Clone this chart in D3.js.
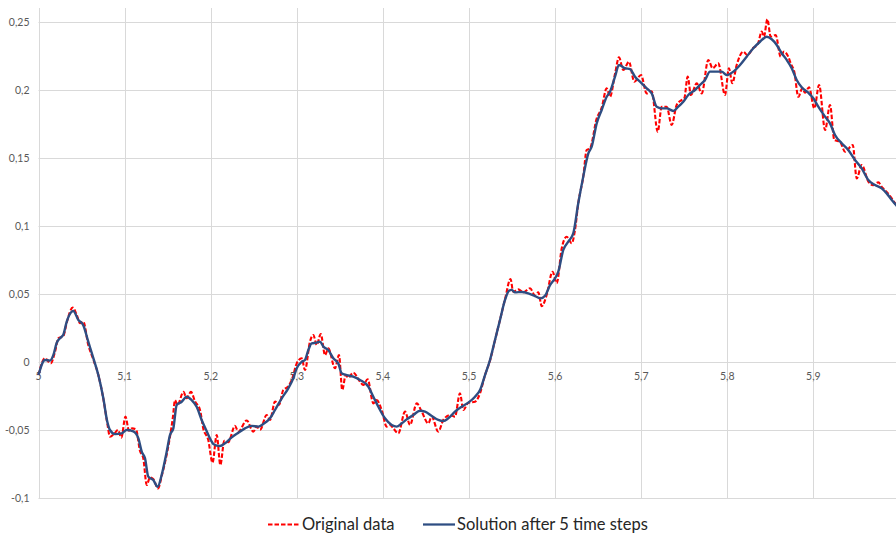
<!DOCTYPE html>
<html>
<head>
<meta charset="utf-8">
<script src="https://cdn.jsdelivr.net/npm/d3@7"></script>
<style>
  body { margin: 0; background: #fff; }
  svg { display: block; }
</style>
</head>
<body>
<svg id="chart" width="896" height="535"></svg>
<script>
// Axis ticks and labels (decimal comma)
const xTicks = [5.0, 5.1, 5.2, 5.3, 5.4, 5.5, 5.6, 5.7, 5.8, 5.9];
const xTickLabels = ["5", "5,1", "5,2", "5,3", "5,4", "5,5", "5,6", "5,7", "5,8", "5,9"];
const yTicks = [-0.1, -0.05, 0, 0.05, 0.1, 0.15, 0.2, 0.25];
const yTickLabels = ["-0,1", "-0,05", "0", "0,05", "0,1", "0,15", "0,2", "0,25"];
const seriesNames = ["Original data", "Solution after 5 time steps"];

// Original (noisy) signal
const originalX = [
  5.000, 5.0075, 5.0142, 5.0192, 5.023, 5.0288, 5.0328, 5.0397, 5.0444, 5.0482,
  5.052, 5.0578, 5.0636, 5.0695, 5.0753, 5.0799, 5.083, 5.0877, 5.0923, 5.0962,
  5.101, 5.1051, 5.1086, 5.1132, 5.1179, 5.1217, 5.1257, 5.1295, 5.1333, 5.1388,
  5.1434, 5.1489, 5.1527, 5.1562, 5.1585, 5.1614, 5.1684, 5.1719, 5.1771, 5.1818,
  5.1876, 5.1914, 5.1972, 5.2021, 5.207, 5.2112, 5.2158, 5.2204, 5.2282, 5.2321,
  5.2418, 5.2495, 5.2534, 5.2573, 5.265, 5.2689, 5.2747, 5.2793, 5.2843, 5.2901,
  5.2948, 5.2999, 5.3057, 5.3095, 5.3153, 5.3192, 5.3231, 5.3278, 5.3328, 5.3366,
  5.3444, 5.349, 5.3528, 5.3568, 5.3598, 5.3656, 5.3734, 5.3772, 5.3823, 5.3889,
  5.3928, 5.3986, 5.4044, 5.4083, 5.4121, 5.4179, 5.4257, 5.4315, 5.4393, 5.4451,
  5.4527, 5.4567, 5.4643, 5.4702, 5.478, 5.4837, 5.4895, 5.4934, 5.4992, 5.507,
  5.5128, 5.5186, 5.5244, 5.5302, 5.536, 5.5418, 5.5482, 5.5514, 5.5573, 5.5631,
  5.5709, 5.5767, 5.5805, 5.5845, 5.5902, 5.597, 5.6019, 5.6077, 5.6135, 5.6193,
  5.6231, 5.6269, 5.6327, 5.6367, 5.6405, 5.6483, 5.6541, 5.6599, 5.6638, 5.6696,
  5.6742, 5.6792, 5.6858, 5.692, 5.6998, 5.7064, 5.7122, 5.7192, 5.7238, 5.7296,
  5.7354, 5.7412, 5.747, 5.7501, 5.754, 5.7578, 5.7645, 5.7703, 5.7779, 5.783,
  5.7895, 5.7973, 5.8019, 5.8058, 5.8109, 5.8186, 5.8232, 5.8302, 5.8353, 5.84,
  5.8426, 5.8465, 5.8504, 5.8562, 5.862, 5.8658, 5.8708, 5.874, 5.8778, 5.8825,
  5.8871, 5.8903, 5.8949, 5.9011, 5.9066, 5.9136, 5.9193, 5.9243, 5.9309, 5.9367,
  5.9457, 5.9503, 5.9561, 5.9638, 5.9693, 5.9754, 5.9793, 5.9851, 5.991, 5.996,
  6.000
];
const originalY = [
  -0.0096, 0.0027, -0.001, 0.0076, 0.0174, 0.019, 0.029, 0.040, 0.0346, 0.0285,
  0.0297, 0.0125, 0.002, -0.0096, -0.027, -0.045, -0.055, -0.053, -0.050, -0.0556,
  -0.0402, -0.0505, -0.0488, -0.0495, -0.0655, -0.0708, -0.0904, -0.0848, -0.086, -0.0929,
  -0.083, -0.068, -0.055, -0.040, -0.028, -0.0316, -0.022, -0.0267, -0.022, -0.029,
  -0.0353, -0.049, -0.0574, -0.074, -0.0537, -0.0757, -0.058, -0.059, -0.047, -0.0512,
  -0.043, -0.0512, -0.0475, -0.0498, -0.039, -0.0426, -0.029, -0.0316, -0.0206, -0.018,
  -0.012, -0.001, 0.0027, -0.0059, 0.015, 0.0199, 0.0125, 0.0206, 0.0051, 0.010,
  -0.0046, 0.0051, -0.0206, -0.0096, -0.0115, -0.0078, -0.0145, -0.0169, -0.0127, -0.0304,
  -0.028, -0.0353, -0.0475, -0.0463, -0.0488, -0.0525, -0.0365, -0.0463, -0.0304, -0.0365,
  -0.0451, -0.0402, -0.0512, -0.0426, -0.039, -0.0402, -0.023, -0.0353, -0.030, -0.0292,
  -0.023, -0.0096, 0.001, 0.016, 0.031, 0.046, 0.061, 0.0517, 0.0534, 0.0512,
  0.0542, 0.049, 0.0512, 0.041, 0.0493, 0.0664, 0.058, 0.0836, 0.0921, 0.0873,
  0.097, 0.1167, 0.1363, 0.1559, 0.157, 0.179, 0.187, 0.2012, 0.195, 0.212,
  0.224, 0.2147, 0.2208, 0.2061, 0.211, 0.1975, 0.199, 0.1693, 0.1877, 0.1877,
  0.1743, 0.189, 0.1926, 0.194, 0.2098, 0.1963, 0.2049, 0.1975, 0.2221, 0.216,
  0.2196, 0.1963, 0.216, 0.205, 0.2184, 0.2282, 0.2257, 0.231, 0.2335, 0.243,
  0.2392, 0.252, 0.2392, 0.2404, 0.2245, 0.2282, 0.2245, 0.219, 0.2135, 0.195,
  0.2012, 0.198, 0.202, 0.1865, 0.2037, 0.1706, 0.189, 0.1632, 0.162, 0.1546,
  0.1596, 0.135, 0.1449, 0.1326, 0.130, 0.1321, 0.1288, 0.1251, 0.1203, 0.1157,
  0.113
];

// Smoothed solution after 5 time steps
const solutionX = [
  5.000, 5.0075, 5.0134, 5.0172, 5.0211, 5.0269, 5.0288, 5.0328, 5.0386, 5.0404,
  5.0462, 5.052, 5.0578, 5.0636, 5.0695, 5.0753, 5.0799, 5.083, 5.0889, 5.0966,
  5.1024, 5.1101, 5.1159, 5.1199, 5.1237, 5.1275, 5.1333, 5.1384, 5.1431, 5.1489,
  5.1527, 5.1566, 5.1605, 5.1663, 5.1721, 5.1779, 5.1837, 5.1895, 5.1947, 5.2012,
  5.203, 5.2108, 5.2166, 5.2244, 5.2321, 5.2398, 5.2476, 5.2553, 5.2611, 5.2689,
  5.2747, 5.2825, 5.2901, 5.2959, 5.2999, 5.3057, 5.3095, 5.3134, 5.3173, 5.3231,
  5.3269, 5.3308, 5.3366, 5.3424, 5.3482, 5.3521, 5.358, 5.3656, 5.3734, 5.383,
  5.3889, 5.3947, 5.4024, 5.4102, 5.416, 5.4218, 5.4276, 5.4353, 5.4431, 5.4489,
  5.4567, 5.4643, 5.4702, 5.4759, 5.4837, 5.4915, 5.4992, 5.507, 5.5128, 5.5186,
  5.5244, 5.5302, 5.536, 5.5418, 5.5465, 5.5496, 5.5534, 5.5612, 5.5689, 5.5767,
  5.5833, 5.5883, 5.5941, 5.5999, 5.6037, 5.6095, 5.6153, 5.6211, 5.6269, 5.6327,
  5.6386, 5.6425, 5.6483, 5.6541, 5.6599, 5.6638, 5.6696, 5.6742, 5.6812, 5.687,
  5.6928, 5.7006, 5.7064, 5.7122, 5.718, 5.7238, 5.7296, 5.7373, 5.7431, 5.7489,
  5.7547, 5.7625, 5.7683, 5.7741, 5.7799, 5.7857, 5.7935, 5.7993, 5.807, 5.8148,
  5.8225, 5.8302, 5.838, 5.8458, 5.8516, 5.8574, 5.8632, 5.869, 5.8748, 5.8806,
  5.8864, 5.8941, 5.8999, 5.9057, 5.9135, 5.9193, 5.9251, 5.9329, 5.9405, 5.9483,
  5.9561, 5.9638, 5.9716, 5.9793, 5.9851, 5.991, 5.996, 6.000
];
const solutionY = [
  -0.0096, 0.0015, 0.001, 0.005, 0.014, 0.0186, 0.020, 0.0297, 0.037, 0.0375,
  0.031, 0.027, 0.015, 0.003, -0.0096, -0.0267, -0.044, -0.050, -0.053, -0.0525,
  -0.050, -0.051, -0.056, -0.066, -0.0708, -0.0843, -0.0868, -0.0917, -0.083, -0.066,
  -0.0537, -0.0488, -0.0316, -0.0292, -0.0255, -0.028, -0.0329, -0.0426, -0.050, -0.0586,
  -0.0603, -0.0618, -0.0598, -0.0554, -0.052, -0.0488, -0.047, -0.0475, -0.0456, -0.0414,
  -0.0353, -0.0267, -0.0194, -0.012, -0.0046, 0.0002, 0.0015, 0.0088, 0.0137, 0.0142,
  0.015, 0.0113, 0.0088, 0.0027, -0.001, -0.0083, -0.0096, -0.0108, -0.0132, -0.018,
  -0.0255, -0.0329, -0.0414, -0.0463, -0.0475, -0.0451, -0.0422, -0.039, -0.0358, -0.0365,
  -0.0397, -0.0426, -0.0434, -0.0414, -0.0365, -0.0329, -0.0299, -0.0255, -0.0206, -0.0096,
  0.0015, 0.0162, 0.0309, 0.0456, 0.0524, 0.053, 0.0512, 0.0515, 0.0505, 0.0485,
  0.0468, 0.0487, 0.0565, 0.0615, 0.0664, 0.0824, 0.0885, 0.0946, 0.1167, 0.1363,
  0.1534, 0.1583, 0.1755, 0.1853, 0.195, 0.1988, 0.2098, 0.2184, 0.216, 0.2154,
  0.2098, 0.2049, 0.2012, 0.1975, 0.1877, 0.1865, 0.1865, 0.1846, 0.1877, 0.1914,
  0.1963, 0.200, 0.2037, 0.2074, 0.2135, 0.2135, 0.2135, 0.211, 0.2135, 0.2184,
  0.2245, 0.2307, 0.2355, 0.2392, 0.2373, 0.2331, 0.227, 0.2221, 0.216, 0.2074,
  0.202, 0.198, 0.1939, 0.1877, 0.1804, 0.1755, 0.1669, 0.1608, 0.1559, 0.1485,
  0.1424, 0.1338, 0.1301, 0.1277, 0.124, 0.1191, 0.1154, 0.112
];

const svg = d3.select("#chart");
const W = 896;
const plotTop = 8;

const x = d3.scaleLinear().domain([5, 6]).range([38.5, 899.5]);
const y = d3.scaleLinear().domain([-0.1, 0.25]).range([498, 22]);

const gridColor = "#d9d9d9";
const labelColor = "#595959";
const font = "Lato, 'Liberation Sans', Arial, sans-serif";

// Horizontal gridlines
svg.append("g")
  .selectAll("line")
  .data(yTicks)
  .join("line")
  .attr("x1", x(5)).attr("x2", W)
  .attr("y1", d => Math.round(y(d)) + 0.5)
  .attr("y2", d => Math.round(y(d)) + 0.5)
  .attr("stroke", gridColor).attr("stroke-width", 1);

// Vertical gridlines (first one doubles as the value axis)
svg.append("g")
  .selectAll("line")
  .data(xTicks)
  .join("line")
  .attr("x1", d => Math.round(x(d)) + 0.5)
  .attr("x2", d => Math.round(x(d)) + 0.5)
  .attr("y1", plotTop).attr("y2", Math.round(y(-0.1)) + 0.5)
  .attr("stroke", gridColor).attr("stroke-width", 1);

// Y tick labels
svg.append("g")
  .selectAll("text")
  .data(yTicks)
  .join("text")
  .attr("x", x(5) - 9)
  .attr("y", d => y(d))
  .attr("dy", "0.35em")
  .attr("text-anchor", "end")
  .attr("font-family", font).attr("font-size", 10.5)
  .attr("fill", labelColor)
  .text((d, i) => yTickLabels[i]);

// X tick labels, placed under the zero line
svg.append("g")
  .selectAll("text")
  .data(xTicks)
  .join("text")
  .attr("x", d => x(d))
  .attr("y", y(0) + 14)
  .attr("dy", "0.35em")
  .attr("text-anchor", "middle")
  .attr("font-family", font).attr("font-size", 10.5)
  .attr("fill", labelColor)
  .text((d, i) => xTickLabels[i]);

svg.append("clipPath").attr("id", "plot-clip")
  .append("rect").attr("x", 0).attr("y", 0).attr("width", W).attr("height", 505);

const line = d3.line()
  .x(d => x(d[0]))
  .y(d => y(d[1]))
  .curve(d3.curveMonotoneX);

const originalData = originalX.map((v, i) => [v, originalY[i]]);
const solutionData = solutionX.map((v, i) => [v, solutionY[i]]);

const redColor = "#ff0000";
const blueColor = "#2e4d82";

svg.append("path")
  .datum(originalData)
  .attr("clip-path", "url(#plot-clip)")
  .attr("d", line)
  .attr("fill", "none")
  .attr("stroke", redColor)
  .attr("stroke-width", 2.1)
  .attr("stroke-dasharray", "4.5,2");

svg.append("path")
  .datum(solutionData)
  .attr("clip-path", "url(#plot-clip)")
  .attr("d", line)
  .attr("fill", "none")
  .attr("stroke", blueColor)
  .attr("stroke-width", 2.4)
  .attr("stroke-linejoin", "round");

// Legend
const legendItems = [
  { name: seriesNames[0], color: redColor, dash: "4.5,2", x0: 268 },
  { name: seriesNames[1], color: blueColor, dash: null, x0: 423 }
];
const legendY = 524.5;
const lg = svg.append("g");
legendItems.forEach(item => {
  lg.append("line")
    .attr("x1", item.x0).attr("x2", item.x0 + 32)
    .attr("y1", legendY).attr("y2", legendY)
    .attr("stroke", item.color)
    .attr("stroke-width", item.dash ? 2 : 2.25)
    .attr("stroke-dasharray", item.dash);
  lg.append("text")
    .attr("x", item.x0 + 34)
    .attr("y", legendY)
    .attr("dy", "0.35em")
    .attr("font-family", font).attr("font-size", 16.5)
    .attr("fill", "#262626")
    .text(item.name);
});
</script>
</body>
</html>
